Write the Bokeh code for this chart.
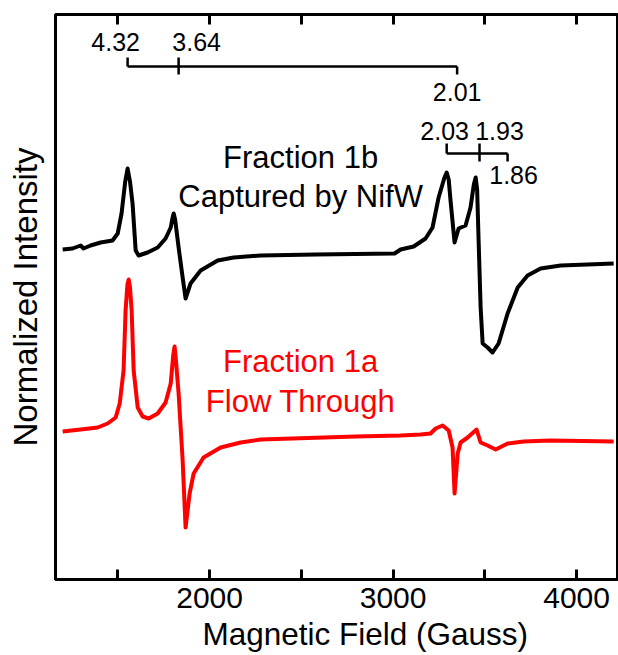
from bokeh.plotting import figure
from bokeh.models import Range1d, FixedTicker, LinearAxis, Label, ColumnDataSource, BasicTickFormatter, Title
from bokeh.core.properties import value
from bokeh.embed import file_html
from bokeh.resources import INLINE

# ---------------- data ----------------
# Fraction 1b, captured by NifW (black)
black_field = [1199, 1253, 1297, 1313, 1351, 1406, 1471, 1499, 1520, 1540, 1553, 1566, 1580,
               1597, 1613, 1662, 1717, 1760, 1788, 1797, 1804, 1812, 1831, 1853, 1869, 1896,
               1951, 2044, 2131, 2278, 2578, 3008, 3041, 3112, 3177, 3215, 3248, 3280, 3292,
               3303, 3313, 3335, 3357, 3395, 3422, 3440, 3450, 3458, 3466, 3477, 3488, 3515,
               3542, 3575, 3624, 3679, 3733, 3804, 3913, 4060, 4202]
black_int = [3.30, 3.31, 3.34, 3.31, 3.34, 3.37, 3.39, 3.46, 3.66, 3.98, 4.11, 3.98, 3.76,
             3.29, 3.24, 3.27, 3.32, 3.41, 3.52, 3.61, 3.66, 3.60, 3.32, 3.02, 2.81, 2.96,
             3.09, 3.19, 3.22, 3.24, 3.25, 3.26, 3.30, 3.33, 3.41, 3.52, 3.82, 4.02, 4.07,
             4.00, 3.79, 3.37, 3.51, 3.54, 3.72, 3.95, 4.02, 3.90, 3.39, 2.72, 2.36, 2.32,
             2.27, 2.36, 2.66, 2.92, 3.04, 3.11, 3.14, 3.15, 3.16]

# Fraction 1a, flow through (red)
red_field = [1199, 1297, 1390, 1444, 1488, 1510, 1531, 1542, 1552, 1559, 1566, 1575, 1586,
             1608, 1635, 1668, 1717, 1760, 1788, 1802, 1809, 1816, 1831, 1853, 1869, 1891,
             1913, 1967, 2060, 2169, 2278, 2796, 3041, 3150, 3204, 3232, 3270, 3303, 3324,
             3335, 3352, 3368, 3406, 3455, 3477, 3515, 3559, 3624, 3711, 3858, 4202]
red_int = [1.48, 1.50, 1.52, 1.56, 1.62, 1.76, 2.09, 2.69, 2.95, 3.00, 2.92, 2.69, 2.09,
           1.72, 1.63, 1.61, 1.66, 1.77, 1.96, 2.25, 2.33, 2.20, 1.86, 1.19, 0.52, 0.86,
           1.06, 1.22, 1.32, 1.37, 1.40, 1.43, 1.44, 1.45, 1.46, 1.51, 1.54, 1.49, 1.32,
           0.86, 1.26, 1.37, 1.42, 1.50, 1.37, 1.34, 1.30, 1.36, 1.38, 1.39, 1.38]

# g-value markers (field positions of the resonances)
g_top_labels = ["4.32", "3.64", "2.01"]
g_top_field = [1553, 1831, 3349]
g_bot_labels = ["2.03", "1.93", "1.86"]
g_bot_field = [3292, 3471, 3624]

x_ticks = [1500, 2000, 2500, 3000, 3500, 4000]
x_tick_labels = ["", "2000", "", "3000", "", "4000"]

# ---------------- layout / style ----------------
FONT = "Liberation Sans"

p = figure(width=618, height=655, x_range=Range1d(1160, 4223), y_range=Range1d(0, 5.65),
           output_backend="svg", toolbar_location=None,
           min_border_left=55, min_border_right=1, min_border_top=14, min_border_bottom=76)
p.grid.visible = False
p.outline_line_color = "black"
p.outline_line_width = 3
p.background_fill_color = "white"
p.border_fill_color = "white"

# bottom axis (inward ticks)
xa = p.xaxis[0]
xa.ticker = FixedTicker(ticks=x_ticks, minor_ticks=[])
xa.formatter = BasicTickFormatter(use_scientific=False)
xa.major_label_overrides = {t: s for t, s in zip(x_ticks, x_tick_labels)}
xa.major_tick_in = 10
xa.major_tick_out = 0
xa.minor_tick_in = 0
xa.minor_tick_out = 0
xa.major_tick_line_color = "black"
xa.major_tick_line_width = 3
xa.axis_line_width = 3
xa.major_label_text_font = FONT
xa.major_label_text_font_size = "30px"
xa.major_label_text_color = "black"
xa.major_label_standoff = 8

# top axis: inward ticks only
top = LinearAxis(ticker=FixedTicker(ticks=x_ticks, minor_ticks=[]))
top.major_label_overrides = {t: "" for t in x_ticks}
top.major_label_text_font_size = "0px"
top.major_tick_in = 10
top.major_tick_out = 0
top.minor_tick_in = 0
top.minor_tick_out = 0
top.major_tick_line_color = "black"
top.major_tick_line_width = 3
top.axis_line_width = 3
top.major_label_standoff = 0
p.add_layout(top, "above")

# left axis: spine + title only
ya = p.yaxis[0]
ya.ticker = FixedTicker(ticks=[])
ya.major_tick_in = 0
ya.major_tick_out = 0
ya.minor_tick_in = 0
ya.minor_tick_out = 0
ya.major_label_standoff = 0
ya.axis_line_width = 3
ya.axis_label = "Normalized Intensity"
ya.axis_label_text_font = FONT
ya.axis_label_text_font_size = "33px"
ya.axis_label_text_font_style = "normal"
ya.axis_label_text_color = "black"
ya.axis_label_standoff = 12

# x axis title (below-title, left-aligned with an offset like the reference)
xt = Title(text="Magnetic Field (Gauss)", align="left", offset=147, standoff=7,
           text_font=FONT, text_font_size="31.5px", text_font_style="normal",
           text_color="black")
p.add_layout(xt, "below")

# spectra
p.line(black_field, black_int, line_color="black", line_width=4, line_join="round")
p.line(red_field, red_int, line_color="#ff0000", line_width=4, line_join="round")

# g-value bracket markers
def bracket(fields, level, up, down):
    xs = [[fields[0], fields[-1]], [fields[0], fields[0]], [fields[1], fields[1]], [fields[-1], fields[-1]]]
    ys = [[level, level], [level, level + up], [level + up, level - down], [level, level - down]]
    return xs, ys

xs1, ys1 = bracket(g_top_field, 5.13, 0.09, 0.08)
xs2, ys2 = bracket(g_bot_field, 4.26, 0.10, 0.08)
p.multi_line(xs1 + xs2, ys1 + ys2, line_color="black", line_width=2.5)

lab_src = ColumnDataSource(dict(
    x=g_top_field + g_bot_field,
    y=[5.38, 5.38, 4.88, 4.49, 4.49, 4.05],
    text=g_top_labels + g_bot_labels,
    dx=[-12, 18, 0, -2, 20, 6],
))
p.text(x="x", y="y", text="text", x_offset="dx", source=lab_src, text_align="center",
       text_baseline="alphabetic", text_font=value(FONT), text_font_size="25px", text_color="black")

# sample labels
for txt, yy, col in [("Fraction 1b", 4.22, "black"), ("Captured by NifW", 3.83, "black"),
                     ("Fraction 1a", 2.18, "#ff0000"), ("Flow Through", 1.78, "#ff0000")]:
    p.add_layout(Label(x=2496, y=yy, text=txt, text_align="center", text_baseline="alphabetic",
                       text_font=FONT, text_font_size="31px", text_color=col))

open("out.html", "w").write(file_html(p, INLINE))
